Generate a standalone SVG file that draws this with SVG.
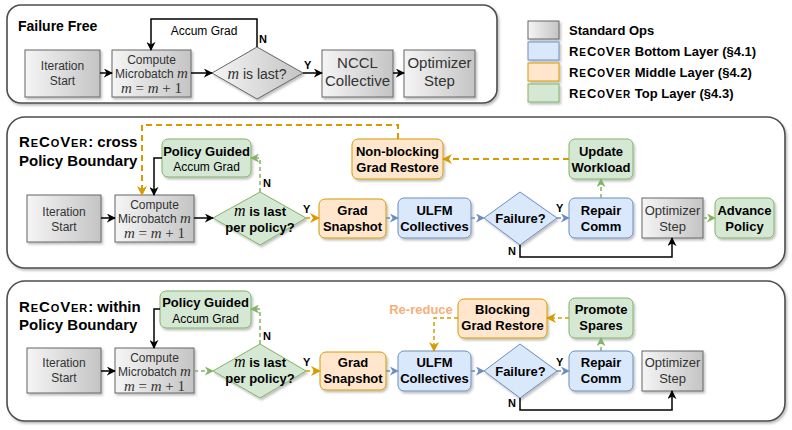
<svg xmlns="http://www.w3.org/2000/svg" width="792" height="430" viewBox="0 0 792 430">
<defs>
<linearGradient id="gray" x1="0" y1="0" x2="1" y2="0">
<stop offset="0" stop-color="#f5f5f5"/>
<stop offset="1" stop-color="#c4c4c4"/>
</linearGradient>
<filter id="sh" x="-10%" y="-10%" width="130%" height="140%">
<feDropShadow dx="1.5" dy="2" stdDeviation="1" flood-color="#000" flood-opacity="0.25"/>
</filter>
<marker id="aK" viewBox="0 0 10 10" refX="9" refY="5" markerWidth="9" markerHeight="9" markerUnits="userSpaceOnUse" orient="auto"><path d="M0,0 L10,5 L0,10 L3,5 z" fill="#000"/></marker>
<marker id="aO" viewBox="0 0 10 10" refX="9" refY="5" markerWidth="10" markerHeight="10" markerUnits="userSpaceOnUse" orient="auto"><path d="M0,0 L10,5 L0,10 L3,5 z" fill="#d79b00"/></marker>
<marker id="aB" viewBox="0 0 10 10" refX="9" refY="5" markerWidth="9" markerHeight="9" markerUnits="userSpaceOnUse" orient="auto"><path d="M0,0 L10,5 L0,10 L3,5 z" fill="#6c8ebf"/></marker>
<marker id="aG" viewBox="0 0 10 10" refX="9" refY="5" markerWidth="9" markerHeight="9" markerUnits="userSpaceOnUse" orient="auto"><path d="M0,0 L10,5 L0,10 L3,5 z" fill="#82b366"/></marker>
</defs>
<style>
text{font-family:"Liberation Sans",Arial,sans-serif;}
.panel{fill:#fff;stroke:#4d4d4d;stroke-width:1.6;filter:url(#sh);}
.std{fill:url(#gray);stroke:#666;stroke-width:1;filter:url(#sh);}
.blue{fill:#dae8fc;stroke:#6c8ebf;stroke-width:1;filter:url(#sh);}
.orange{fill:#ffe6cc;stroke:#d79b00;stroke-width:1;filter:url(#sh);}
.green{fill:#d5e8d4;stroke:#82b366;stroke-width:1;filter:url(#sh);}
.t{font-size:13px;fill:#333;text-anchor:middle;}
.t12{font-size:12px;fill:#333;text-anchor:middle;}
.t15{font-size:15px;fill:#333;text-anchor:middle;}
.acc{font-size:12px;fill:#000;text-anchor:middle;}
.tb{font-size:13px;font-weight:bold;fill:#000;text-anchor:middle;}
.title{font-size:15px;font-weight:bold;fill:#000;}
.lab{font-size:11px;font-weight:bold;fill:#000;}
.leg{font-size:13px;font-weight:bold;fill:#000;}
.rc{letter-spacing:0.9px;}
.sc{font-variant:small-caps;font-size:15.8px;}
.scl{font-variant:small-caps;font-size:14px;}
.math{font-family:"Liberation Serif","DejaVu Serif",serif;font-size:15px;fill:#333;text-anchor:middle;}
.m{font-family:"Liberation Serif","DejaVu Serif",serif;font-style:italic;font-weight:normal;}
.mr{font-family:"Liberation Serif","DejaVu Serif",serif;font-style:normal;font-weight:normal;}
.m16{font-family:"Liberation Serif","DejaVu Serif",serif;font-style:italic;font-weight:normal;font-size:16px;}
.k{fill:none;stroke:#000;stroke-width:1.5;marker-end:url(#aK);}
.o{fill:none;stroke:#d79b00;stroke-width:2;stroke-dasharray:6 4;marker-end:url(#aO);}
.o2{fill:none;stroke:#d79b00;stroke-width:1.5;stroke-dasharray:4 3;marker-end:url(#aO);}
.b{fill:none;stroke:#6c8ebf;stroke-width:1.5;stroke-dasharray:4 3;marker-end:url(#aB);}
.g{fill:none;stroke:#82b366;stroke-width:1.5;stroke-dasharray:4 3;marker-end:url(#aG);}
</style>

<!-- Panels -->
<rect class="panel" x="7" y="5" width="490" height="98" rx="14"/>
<rect class="panel" x="7" y="117" width="778" height="151" rx="18"/>
<rect class="panel" x="7" y="281" width="778" height="140" rx="18"/>

<!-- Legend -->
<g id="legend">
<rect class="std" x="528" y="21" width="31" height="18"/>
<rect class="blue" x="528" y="42" width="31" height="18"/>
<rect class="orange" x="528" y="63" width="31" height="18"/>
<rect class="green" x="528" y="84" width="31" height="18"/>
<text class="leg" x="569" y="35">Standard Ops</text>
<text class="leg" x="569" y="56"><tspan class="rc">R<tspan class="scl">e</tspan>C<tspan class="scl">o</tspan>V<tspan class="scl">er</tspan></tspan> Bottom Layer (§4.1)</text>
<text class="leg" x="569" y="77"><tspan class="rc">R<tspan class="scl">e</tspan>C<tspan class="scl">o</tspan>V<tspan class="scl">er</tspan></tspan> Middle Layer (§4.2)</text>
<text class="leg" x="569" y="98"><tspan class="rc">R<tspan class="scl">e</tspan>C<tspan class="scl">o</tspan>V<tspan class="scl">er</tspan></tspan> Top Layer (§4.3)</text>
</g>

<!-- Panel 1: Failure Free -->
<text class="title" x="18" y="31" style="font-size:14px">Failure Free</text>
<g id="ff-start"><rect class="std" x="25" y="50" width="75" height="47"/>
<text class="t12" x="62.5" y="70">Iteration</text><text class="t12" x="62.5" y="85">Start</text></g>
<g id="ff-compute"><rect class="std" x="112" y="50" width="79" height="47"/>
<text class="t12" x="151.5" y="64">Compute</text>
<text class="t12" x="151.5" y="78">Microbatch <tspan class="m" style="font-size:15px">m</tspan></text>
<text class="math" x="151.5" y="93"><tspan class="m">m</tspan><tspan class="mr"> = </tspan><tspan class="m">m</tspan><tspan class="mr"> + 1</tspan></text></g>
<g id="ff-last"><polygon points="257,47 303,73 257,99 212,73" fill="url(#gray)" stroke="#666" filter="url(#sh)"/>
<text class="t" x="257" y="79" style="font-size:14px"><tspan class="m16">m</tspan> is last?</text></g>
<g id="ff-nccl"><rect class="std" x="322" y="50" width="71" height="47"/>
<text class="t15" x="357.5" y="68">NCCL</text><text class="t15" x="357.5" y="86">Collective</text></g>
<g id="ff-opt"><rect class="std" x="404" y="50" width="71" height="47"/>
<text class="t15" x="439.5" y="68">Optimizer</text><text class="t15" x="439.5" y="86">Step</text></g>
<g id="ff-edges">
<path class="k" d="M100,73 H112"/>
<path class="k" d="M191,73 H212"/>
<path class="k" d="M257,47 V19 H151 V50"/>
<path class="k" d="M303,73 H322"/>
<path class="k" d="M393,73 H404"/>
<text class="acc" x="204" y="35">Accum Grad</text>
<text class="lab" x="259" y="43">N</text>
<text class="lab" x="304" y="69">Y</text>
</g>

<!-- Panel 2: cross Policy Boundary -->
<text class="title" x="19" y="147"><tspan class="rc">R<tspan class="sc">e</tspan>C<tspan class="sc">o</tspan>V<tspan class="sc">er</tspan></tspan>: cross</text>
<text class="title" x="19" y="166">Policy Boundary</text>
<g id="c-start"><rect class="std" x="27" y="195" width="74" height="47"/>
<text class="t12" x="64" y="216">Iteration</text><text class="t12" x="64" y="231">Start</text></g>
<g id="c-compute"><rect class="std" x="115" y="195" width="79" height="47"/>
<text class="t12" x="154.5" y="209">Compute</text>
<text class="t12" x="154.5" y="223">Microbatch <tspan class="m" style="font-size:15px">m</tspan></text>
<text class="math" x="154.5" y="238"><tspan class="m">m</tspan><tspan class="mr"> = </tspan><tspan class="m">m</tspan><tspan class="mr"> + 1</tspan></text></g>
<g id="c-policy"><rect class="green" x="162" y="139" width="89" height="38" rx="6"/>
<text class="tb" x="206.5" y="156">Policy Guided</text><text class="acc" x="206.5" y="171">Accum Grad</text></g>
<g id="c-last"><polygon points="260,192 306,218 260,245 213,218" class="green"/>
<text class="tb" x="260" y="216"><tspan class="m16">m</tspan> is last</text>
<text class="tb" x="260" y="232">per policy?</text></g>
<g id="c-snap"><rect class="orange" x="319" y="199" width="67" height="39" rx="6"/>
<text class="tb" x="352.5" y="215">Grad</text><text class="tb" x="352.5" y="231">Snapshot</text></g>
<g id="c-ulfm"><rect class="blue" x="398" y="198" width="73" height="40" rx="6"/>
<text class="tb" x="434.5" y="215">ULFM</text><text class="tb" x="434.5" y="231">Collectives</text></g>
<g id="c-fail"><polygon points="520,192 557,218 520,245 484,218" class="blue"/>
<text class="tb" x="520.5" y="223">Failure?</text></g>
<g id="c-repair"><rect class="blue" x="569" y="198" width="64" height="40" rx="6"/>
<text class="tb" x="601" y="215">Repair</text><text class="tb" x="601" y="231">Comm</text></g>
<g id="c-opt"><rect class="std" x="642" y="198" width="61" height="40"/>
<text class="t" x="672.5" y="215">Optimizer</text><text class="t" x="672.5" y="231">Step</text></g>
<g id="c-advance"><rect class="green" x="715" y="198" width="59" height="40" rx="6"/>
<text class="tb" x="744.5" y="215">Advance</text><text class="tb" x="744.5" y="231">Policy</text></g>
<g id="c-update"><rect class="green" x="569" y="139" width="64" height="40" rx="6"/>
<text class="tb" x="601" y="156">Update</text><text class="tb" x="601" y="172">Workload</text></g>
<g id="c-restore"><rect class="orange" x="352" y="139" width="91" height="40" rx="6"/>
<text class="tb" x="397.5" y="156">Non-blocking</text><text class="tb" x="397.5" y="172">Grad Restore</text></g>
<g id="c-edges">
<path class="o" d="M398,139 V125 H142 V195"/>
<path class="k" d="M162,158 H154 V195"/>
<path class="g" d="M260,192 V158 H251"/>
<path class="k" d="M101,218 H115"/>
<path class="k" d="M194,218 H213"/>
<path class="o2" d="M306,218 H319"/>
<path class="b" d="M386,218 H398"/>
<path class="b" d="M471,218 H484"/>
<path class="b" d="M557,218 H569"/>
<path class="g" d="M601,198 V179"/>
<path class="o" d="M569,159 H443"/>
<path class="g" d="M703,218 H715"/>
<path class="k" d="M520,245 V257 H672 V238"/>
<text class="lab" x="263" y="187">N</text>
<text class="lab" x="303" y="213">Y</text>
<text class="lab" x="556" y="212">Y</text>
<text class="lab" x="508" y="255">N</text>
</g>

<!-- Panel 3: within Policy Boundary -->
<text class="title" x="19" y="312"><tspan class="rc">R<tspan class="sc">e</tspan>C<tspan class="sc">o</tspan>V<tspan class="sc">er</tspan></tspan>: within</text>
<text class="title" x="19" y="330">Policy Boundary</text>
<g id="w-start"><rect class="std" x="27" y="348" width="74" height="45"/>
<text class="t12" x="64" y="367">Iteration</text><text class="t12" x="64" y="382">Start</text></g>
<g id="w-compute"><rect class="std" x="115" y="348" width="79" height="45"/>
<text class="t12" x="154.5" y="362">Compute</text>
<text class="t12" x="154.5" y="376">Microbatch <tspan class="m" style="font-size:15px">m</tspan></text>
<text class="math" x="154.5" y="391"><tspan class="m">m</tspan><tspan class="mr"> = </tspan><tspan class="m">m</tspan><tspan class="mr"> + 1</tspan></text></g>
<g id="w-policy"><rect class="green" x="160" y="291" width="91" height="37" rx="6"/>
<text class="tb" x="205.5" y="307">Policy Guided</text><text class="acc" x="205.5" y="323">Accum Grad</text></g>
<g id="w-last"><polygon points="260,344 306,371 260,398 213,371" class="green"/>
<text class="tb" x="260" y="367"><tspan class="m16">m</tspan> is last</text>
<text class="tb" x="260" y="383">per policy?</text></g>
<g id="w-snap"><rect class="orange" x="320" y="352" width="66" height="38" rx="6"/>
<text class="tb" x="353" y="367">Grad</text><text class="tb" x="353" y="383">Snapshot</text></g>
<g id="w-ulfm"><rect class="blue" x="398" y="351" width="73" height="40" rx="6"/>
<text class="tb" x="434.5" y="367">ULFM</text><text class="tb" x="434.5" y="383">Collectives</text></g>
<g id="w-fail"><polygon points="520,344 557,371 520,398 484,371" class="blue"/>
<text class="tb" x="520.5" y="376">Failure?</text></g>
<g id="w-repair"><rect class="blue" x="569" y="351" width="64" height="40" rx="6"/>
<text class="tb" x="601" y="367">Repair</text><text class="tb" x="601" y="383">Comm</text></g>
<g id="w-opt"><rect class="std" x="642" y="351" width="61" height="40"/>
<text class="t" x="672.5" y="367">Optimizer</text><text class="t" x="672.5" y="383">Step</text></g>
<g id="w-promote"><rect class="green" x="569" y="298" width="64" height="40" rx="6"/>
<text class="tb" x="601" y="314">Promote</text><text class="tb" x="601" y="330">Spares</text></g>
<g id="w-restore"><rect class="orange" x="458" y="299" width="89" height="39" rx="6"/>
<text class="tb" x="502.5" y="314">Blocking</text><text class="tb" x="502.5" y="330">Grad Restore</text></g>
<g id="w-edges">
<path class="k" d="M160,309 H154 V348"/>
<path class="k" d="M101,371 H115"/>
<path class="g" d="M194,371 H213"/>
<path class="g" d="M260,344 V309 H251"/>
<path class="o2" d="M306,371 H320"/>
<path class="b" d="M386,371 H398"/>
<path class="b" d="M471,371 H484"/>
<path class="b" d="M557,371 H569"/>
<path class="g" d="M601,351 V338"/>
<path class="o2" d="M569,318 H547"/>
<path class="o2" d="M458,318 H434 V351"/>
<path class="k" d="M520,398 V410 H672 V391"/>
<text x="421" y="314" font-size="13" font-weight="bold" fill="#f4b07a" text-anchor="middle">Re-reduce</text>
<text class="lab" x="263" y="340">N</text>
<text class="lab" x="303" y="366">Y</text>
<text class="lab" x="556" y="366">Y</text>
<text class="lab" x="508" y="407">N</text>
</g>
</svg>
